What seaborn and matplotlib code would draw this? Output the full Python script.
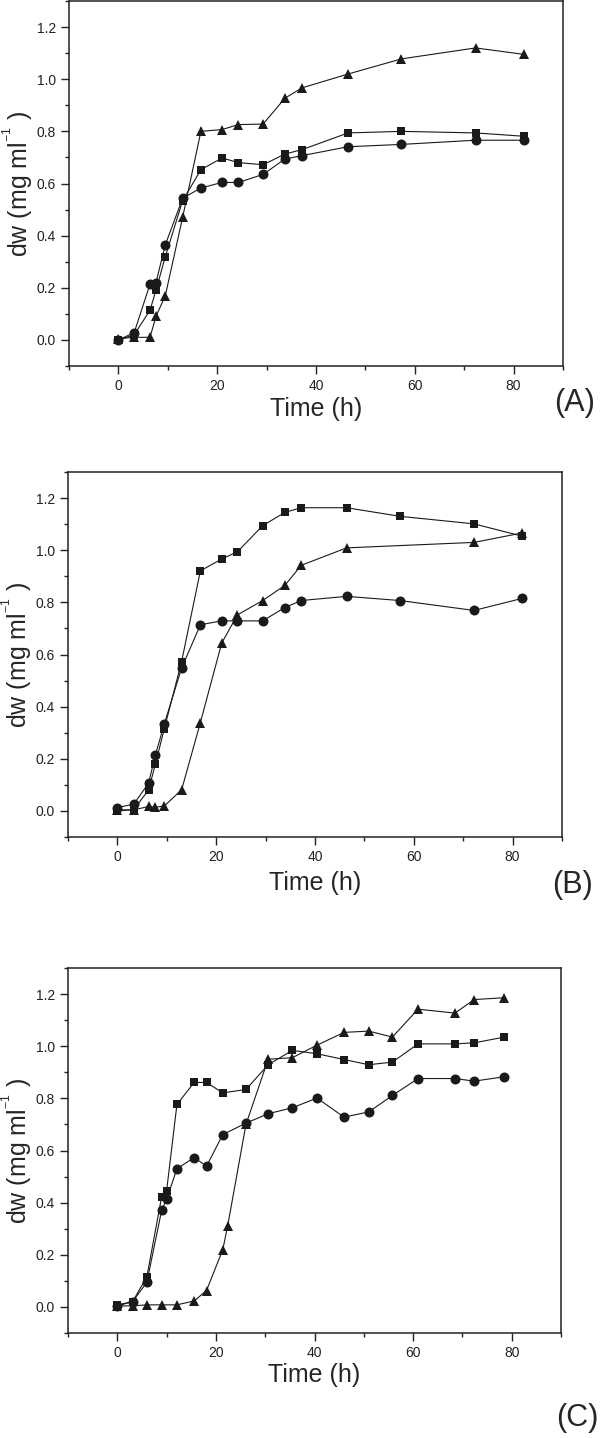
import matplotlib
matplotlib.use('Agg')
from matplotlib import pyplot as plt
from matplotlib.ticker import MultipleLocator
import seaborn as sns

# Panel A - same sampling times for all three cultures
time_a = [0, 3.2, 6.4, 7.6, 9.5, 13.0, 16.7, 21.0, 24.3, 29.3, 33.7, 37.2, 46.5, 57.3, 72.3, 82.2]
square_a = [0.0, 0.02, 0.114, 0.19, 0.32, 0.534, 0.653, 0.698, 0.68, 0.672, 0.713, 0.73, 0.794, 0.80, 0.794, 0.781]
circle_a = [0.0, 0.028, 0.214, 0.22, 0.365, 0.543, 0.583, 0.604, 0.604, 0.635, 0.694, 0.707, 0.741, 0.75, 0.766, 0.766]
triangle_a = [0.005, 0.01, 0.01, 0.09, 0.17, 0.47, 0.80, 0.807, 0.826, 0.828, 0.927, 0.967, 1.02, 1.078, 1.12, 1.095]

# Panel B - the triangle series has no point at 57 h
time_b = [0, 3.3, 6.3, 7.7, 9.5, 13.0, 16.8, 21.1, 24.3, 29.4, 33.9, 37.2, 46.4, 57.2, 72.2, 81.9]
square_b = [0.0, 0.005, 0.08, 0.18, 0.316, 0.573, 0.921, 0.966, 0.994, 1.094, 1.145, 1.163, 1.163, 1.13, 1.101, 1.054]
circle_b = [0.013, 0.026, 0.106, 0.215, 0.334, 0.548, 0.714, 0.729, 0.729, 0.729, 0.78, 0.807, 0.823, 0.807, 0.769, 0.815]
time_b_tri = [0, 3.3, 6.3, 7.7, 9.5, 13.0, 16.8, 21.1, 24.3, 29.4, 33.9, 37.2, 46.4, 72.2, 81.9]
triangle_b = [0.004, 0.004, 0.017, 0.014, 0.019, 0.081, 0.339, 0.643, 0.752, 0.807, 0.865, 0.942, 1.009, 1.03, 1.066]

# Panel C - triangles sampled at 22 h instead of 10 h
time_c = [0, 3.1, 6.0, 9.0, 10.0, 12.1, 15.6, 18.1, 21.4, 26.1, 30.6, 35.5, 40.5, 46.0, 51.0, 55.8, 61.0, 68.5, 72.4, 78.5]
square_c = [0.008, 0.02, 0.116, 0.423, 0.445, 0.777, 0.861, 0.861, 0.821, 0.834, 0.929, 0.984, 0.971, 0.949, 0.929, 0.939, 1.009, 1.009, 1.013, 1.035]
circle_c = [0.004, 0.02, 0.095, 0.371, 0.413, 0.53, 0.573, 0.54, 0.661, 0.705, 0.741, 0.764, 0.801, 0.728, 0.748, 0.811, 0.876, 0.876, 0.866, 0.883]
time_c_tri = [0, 3.1, 6.0, 9.0, 12.1, 15.6, 18.1, 21.4, 22.4, 26.1, 30.6, 35.5, 40.5, 46.0, 51.0, 55.8, 61.0, 68.5, 72.4, 78.5]
triangle_c = [0.004, 0.004, 0.008, 0.008, 0.008, 0.023, 0.063, 0.22, 0.312, 0.70, 0.95, 0.956, 1.004, 1.053, 1.058, 1.035, 1.142, 1.127, 1.179, 1.186]

panels = [
    ('(A)', [(time_a, square_a, 's'), (time_a, circle_a, 'o'), (time_a, triangle_a, '^')]),
    ('(B)', [(time_b, square_b, 's'), (time_b, circle_b, 'o'), (time_b_tri, triangle_b, '^')]),
    ('(C)', [(time_c, square_c, 's'), (time_c, circle_c, 'o'), (time_c_tri, triangle_c, '^')]),
]

sns.set_style('ticks')
plt.rcParams['font.family'] = ['Liberation Sans', 'DejaVu Sans']
plt.rcParams['mathtext.default'] = 'regular'

W, H = 600, 1438
fig = plt.figure(figsize=(W / 100, H / 100), dpi=100)

# axes boxes in pixels: left, top, right, bottom
boxes = [(69, 1, 563, 366), (68, 472, 562, 837), (68, 968, 561, 1333)]
label_pos = [(575, 403), (573, 885), (577, 1418)]
xlabel_pad = [3, 5, 2]
msize = {'s': 6.4, 'o': 7.2, '^': 7.4}

for (tag, series), (l, t, r, b), (lx, ly), lp in zip(panels, boxes, label_pos, xlabel_pad):
    ax = fig.add_axes([l / W, 1 - b / H, (r - l) / W, (b - t) / H])
    for x, y, m in series:
        sns.lineplot(x=x, y=y, ax=ax, color='#1a1a1a', linewidth=0.8,
                     marker=m, markersize=msize[m], markeredgewidth=0,
                     estimator=None, sort=False)
    ax.set_xlim(-10, 90)
    ax.set_ylim(-0.1, 1.3)
    ax.xaxis.set_major_locator(MultipleLocator(20))
    ax.xaxis.set_minor_locator(MultipleLocator(10))
    ax.yaxis.set_major_locator(MultipleLocator(0.2))
    ax.yaxis.set_minor_locator(MultipleLocator(0.1))
    ax.yaxis.set_major_formatter(lambda v, p: f'{v:.1f}')
    ax.tick_params(which='major', direction='out', length=5.5, width=1.0,
                   labelsize=10, labelcolor='#222222', color='#222222', pad=4)
    ax.tick_params(which='minor', direction='out', length=3.2, width=1.0, color='#222222')
    for s in ax.spines.values():
        s.set_visible(True)
        s.set_linewidth(1.1)
        s.set_color('#222222')
    ax.set_xlabel('Time (h)', fontsize=18, labelpad=lp)
    ax.set_ylabel('dw (mg ml$^{{}^{-1}}$ )', fontsize=18, labelpad=1)
    fig.text(lx / W, 1 - ly / H, tag, fontsize=22, ha='center', va='center')

plt.savefig('out.png', dpi=100)
